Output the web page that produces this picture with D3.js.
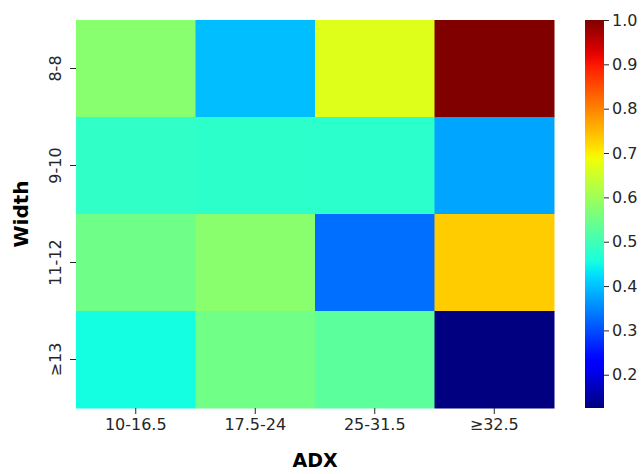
<!DOCTYPE html>
<html>
<head>
<meta charset="utf-8">
<script src="https://cdn.jsdelivr.net/npm/d3@7"></script>
<style>
  body { margin: 0; background: #fff; }
  text { font-family: "DejaVu Sans", sans-serif; fill: #262626; }
</style>
</head>
<body>
<svg id="chart" width="644" height="474"></svg>
<script>
const adx = ["10-16.5", "17.5-24", "25-31.5", "≥32.5"];
const width = ["8-8", "9-10", "11-12", "≥13"];
// one row per Width bucket, columns follow adx
const values = [
  [0.576, 0.397, 0.666, 1.0],
  [0.482, 0.479, 0.477, 0.376],
  [0.549, 0.577, 0.329, 0.732],
  [0.453, 0.550, 0.528, 0.125]
];
const cbTicks = [0.2, 0.3, 0.4, 0.5, 0.6, 0.7, 0.8, 0.9, 1.0];

// matplotlib "jet" segments
const jetR = d3.scaleLinear().domain([0, 0.35, 0.66, 0.89, 1]).range([0, 0, 1, 1, 0.5]).clamp(true);
const jetG = d3.scaleLinear().domain([0, 0.125, 0.375, 0.64, 0.91, 1]).range([0, 0, 1, 1, 0, 0]).clamp(true);
const jetB = d3.scaleLinear().domain([0, 0.11, 0.34, 0.65, 1]).range([0.5, 1, 1, 0, 0]).clamp(true);
const jet = t => d3.rgb(jetR(t) * 255, jetG(t) * 255, jetB(t) * 255).toString();

const flat = values.flat();
const vmin = d3.min(flat), vmax = d3.max(flat);
const color = d3.scaleSequential(jet).domain([vmin, vmax]);

const m = { left: 76, right: 554, top: 20, bottom: 408 };
const svg = d3.select("#chart");

const x = d3.scaleBand().domain(adx).range([m.left, m.right]);
const y = d3.scaleBand().domain(width).range([m.top, m.bottom]);

const cells = [];
values.forEach((row, i) => row.forEach((v, j) => cells.push({ w: width[i], a: adx[j], v })));

svg.append("g")
  .selectAll("rect")
  .data(cells)
  .join("rect")
    .attr("x", d => x(d.a))
    .attr("y", d => y(d.w))
    .attr("width", x.bandwidth() + 0.5)
    .attr("height", y.bandwidth() + 0.5)
    .attr("fill", d => color(d.v));

const xAxis = svg.append("g")
  .attr("transform", `translate(0,${m.bottom})`)
  .call(d3.axisBottom(x).tickSize(6).tickPadding(5));
xAxis.select(".domain").remove();
xAxis.selectAll("line").attr("stroke", "#262626");
xAxis.selectAll("text").attr("font-size", 16).attr("font-family", "DejaVu Sans");

const yAxis = svg.append("g")
  .attr("transform", `translate(${m.left},0)`)
  .call(d3.axisLeft(y).tickSize(6).tickPadding(5));
yAxis.select(".domain").remove();
yAxis.selectAll("line").attr("stroke", "#262626");
yAxis.selectAll("text")
  .attr("font-size", 16)
  .attr("font-family", "DejaVu Sans")
  .attr("text-anchor", "middle")
  .attr("dy", "0")
  .attr("x", 0)
  .attr("y", 0)
  .attr("transform", "translate(-15,0) rotate(-90)");

svg.append("text")
  .attr("x", (m.left + m.right) / 2)
  .attr("y", 467)
  .attr("text-anchor", "middle")
  .attr("font-family", "Open Sans")
  .attr("font-weight", "bold")
  .attr("font-size", 19)
  .style("fill", "#000")
  .text("ADX");

svg.append("text")
  .attr("transform", `translate(28,${(m.top + m.bottom) / 2}) rotate(-90)`)
  .attr("text-anchor", "middle")
  .attr("font-family", "Open Sans")
  .attr("font-weight", "bold")
  .attr("font-size", 20)
  .style("fill", "#000")
  .text("Width");

// colorbar
const cb = { x: 585, w: 19 };
const cy = d3.scaleLinear().domain([vmin, vmax]).range([m.bottom, m.top]);
const defs = svg.append("defs");
const grad = defs.append("linearGradient")
  .attr("id", "jetgrad")
  .attr("x1", 0).attr("y1", 1).attr("x2", 0).attr("y2", 0);
grad.selectAll("stop")
  .data(d3.range(0, 1.0001, 0.02))
  .join("stop")
    .attr("offset", d => d)
    .attr("stop-color", d => jet(d));

svg.append("rect")
  .attr("x", cb.x)
  .attr("y", m.top)
  .attr("width", cb.w)
  .attr("height", m.bottom - m.top)
  .attr("fill", "url(#jetgrad)");

const cAxis = svg.append("g")
  .attr("transform", `translate(${cb.x + cb.w},0)`)
  .call(d3.axisRight(cy).tickValues(cbTicks).tickFormat(d3.format(".1f")).tickSize(5).tickPadding(3));
cAxis.select(".domain").remove();
cAxis.selectAll("line").attr("stroke", "#262626");
cAxis.selectAll("text").attr("font-size", 16).attr("font-family", "DejaVu Sans");
</script>
</body>
</html>
